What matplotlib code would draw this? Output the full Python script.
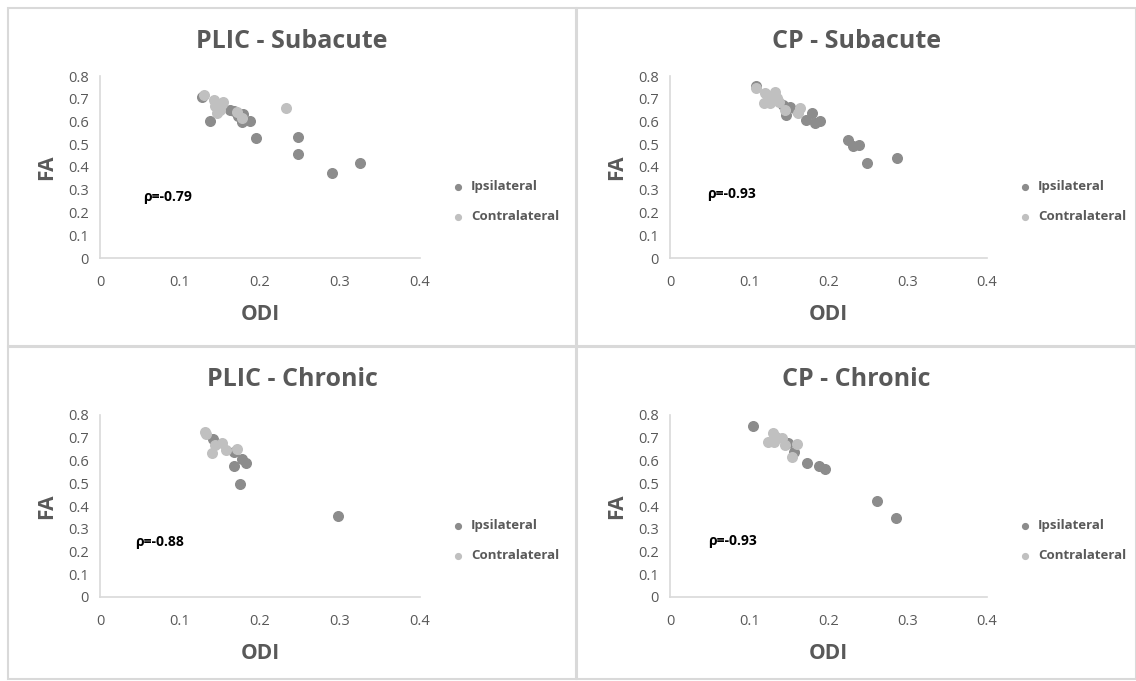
import matplotlib.pyplot as plt
from matplotlib.patches import Rectangle

plt.rcParams['font.family'] = ['Open Sans', 'DejaVu Sans']

# ODI / FA readings per panel
plic_sub_ipsi_odi = [0.127, 0.138, 0.1625, 0.1675, 0.172, 0.179, 0.177, 0.187, 0.195, 0.247, 0.247, 0.290, 0.325]
plic_sub_ipsi_fa = [0.706, 0.602, 0.651, 0.647, 0.625, 0.633, 0.599, 0.604, 0.527, 0.530, 0.457, 0.375, 0.418]
plic_sub_contra_odi = [0.130, 0.142, 0.154, 0.150, 0.146, 0.144, 0.152, 0.171, 0.177, 0.233]
plic_sub_contra_fa = [0.718, 0.694, 0.687, 0.651, 0.639, 0.670, 0.675, 0.643, 0.614, 0.661]

cp_sub_ipsi_odi = [0.109, 0.143, 0.151, 0.147, 0.160, 0.179, 0.172, 0.183, 0.189, 0.225, 0.231, 0.238, 0.248, 0.287]
cp_sub_ipsi_fa = [0.756, 0.672, 0.665, 0.629, 0.645, 0.636, 0.607, 0.592, 0.602, 0.519, 0.492, 0.497, 0.416, 0.441]
cp_sub_contra_odi = [0.109, 0.120, 0.132, 0.118, 0.126, 0.137, 0.124, 0.135, 0.145, 0.164, 0.162]
cp_sub_contra_fa = [0.746, 0.724, 0.731, 0.680, 0.680, 0.687, 0.710, 0.705, 0.651, 0.658, 0.639]

plic_chr_ipsi_odi = [0.141, 0.1675, 0.177, 0.1825, 0.168, 0.175, 0.298]
plic_chr_ipsi_fa = [0.693, 0.636, 0.605, 0.590, 0.576, 0.495, 0.356]
plic_chr_contra_odi = [0.131, 0.133, 0.144, 0.140, 0.153, 0.158, 0.171]
plic_chr_contra_fa = [0.724, 0.715, 0.668, 0.634, 0.678, 0.646, 0.651]

cp_chr_ipsi_odi = [0.105, 0.149, 0.156, 0.173, 0.188, 0.196, 0.261, 0.285]
cp_chr_ipsi_fa = [0.752, 0.676, 0.639, 0.590, 0.576, 0.563, 0.422, 0.346]
cp_chr_contra_odi = [0.124, 0.130, 0.134, 0.141, 0.145, 0.160, 0.154, 0.131]
cp_chr_contra_fa = [0.683, 0.720, 0.705, 0.698, 0.668, 0.672, 0.617, 0.683]

titles = ["PLIC - Subacute", "CP - Subacute", "PLIC - Chronic", "CP - Chronic"]
rhos = ["ρ=-0.79", "ρ=-0.93", "ρ=-0.88", "ρ=-0.93"]
rho_pos = [(0.054, 0.27), (0.047, 0.28), (0.044, 0.24), (0.048, 0.245)]

panels = [
    (plic_sub_ipsi_odi, plic_sub_ipsi_fa, plic_sub_contra_odi, plic_sub_contra_fa),
    (cp_sub_ipsi_odi, cp_sub_ipsi_fa, cp_sub_contra_odi, cp_sub_contra_fa),
    (plic_chr_ipsi_odi, plic_chr_ipsi_fa, plic_chr_contra_odi, plic_chr_contra_fa),
    (cp_chr_ipsi_odi, cp_chr_ipsi_fa, cp_chr_contra_odi, cp_chr_contra_fa),
]

W, H = 1136, 681
fig = plt.figure(figsize=(W / 100, H / 100), dpi=100)

# panel frames (pixel boxes: left, top, right, bottom)
boxes = [(8, 8, 576, 346), (577, 8, 1136, 346), (8, 347, 576, 679), (577, 347, 1136, 679)]
# axes in pixels (left, right, y0, y08)
axes_px = [(100, 420, 258, 76), (670, 987, 258, 76), (100, 420, 597, 415), (670, 987, 597, 415)]

text_col = "#595959"
ipsi_col = "#8c8c8c"
contra_col = "#c0c0c0"

for i in range(4):
    l, t, r, b = boxes[i]
    fig.patches.append(Rectangle((l / W, 1 - b / H), (r - l) / W, (b - t) / H,
                                 transform=fig.transFigure, fill=False,
                                 edgecolor="#d9d9d9", linewidth=1.5))
    x0, x1, y0, y1 = axes_px[i]
    ax = fig.add_axes([x0 / W, 1 - y0 / H, (x1 - x0) / W, (y0 - y1) / H])
    ipsi_x, ipsi_y, con_x, con_y = panels[i]
    ax.scatter(ipsi_x, ipsi_y, s=48, color=ipsi_col, label="Ipsilateral", zorder=3)
    ax.scatter(con_x, con_y, s=48, color=contra_col, label="Contralateral", zorder=3)
    ax.set_xlim(0, 0.4)
    ax.set_ylim(0, 0.8)
    ax.set_xticks([0, 0.1, 0.2, 0.3, 0.4])
    ax.set_xticklabels(["0", "0.1", "0.2", "0.3", "0.4"])
    ax.set_yticks([0.1 * k for k in range(9)])
    ax.set_yticklabels(["0"] + [f"0.{k}" for k in range(1, 9)])
    ax.tick_params(length=0, labelsize=10.5, colors=text_col, pad=12)
    ax.tick_params(axis="y", pad=8)
    for side in ["top", "right"]:
        ax.spines[side].set_visible(False)
    for side in ["left", "bottom"]:
        ax.spines[side].set_color("#d9d9d9")
        ax.spines[side].set_linewidth(1.2)
    ax.set_xlabel("ODI", fontsize=15, fontweight="bold", color=text_col, labelpad=10)
    ax.set_ylabel("FA", fontsize=15, fontweight="bold", color=text_col, labelpad=8)
    ax.text(rho_pos[i][0], rho_pos[i][1], rhos[i], fontsize=10, fontweight="bold",
            color="black", va="center")
    leg = ax.legend(loc="center left", bbox_to_anchor=(1.04, 0.31), frameon=False,
                    handletextpad=0.0, labelspacing=1.3, fontsize=9.5, markerscale=0.6)
    for txt in leg.get_texts():
        txt.set_color(text_col)
        txt.set_fontweight("bold")
    fig.text(((l + r) / 2) / W, 1 - (t + 33) / H, titles[i], ha="center", va="center",
             fontsize=18, fontweight="bold", color=text_col)

fig.savefig("out.png", dpi=100)
